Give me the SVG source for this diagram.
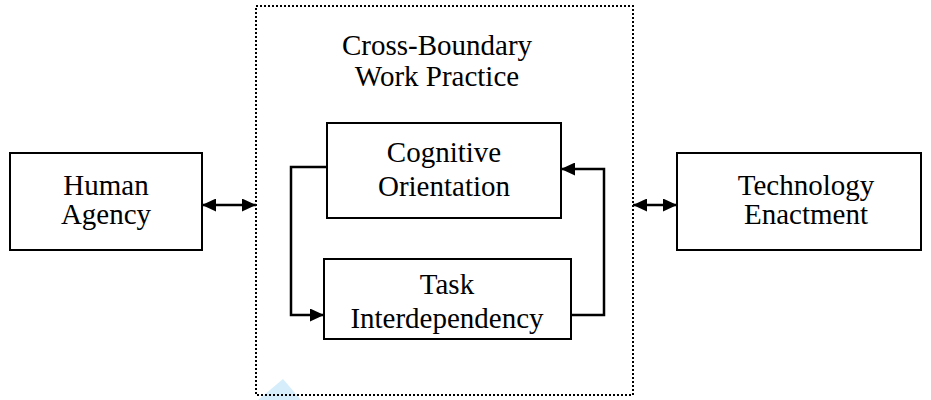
<svg xmlns="http://www.w3.org/2000/svg" width="931" height="400" viewBox="0 0 931 400">
<defs>
<style>
.box{fill:#fff;stroke:#000;stroke-width:2}
.t{font-family:"Liberation Serif","Times New Roman",serif;font-size:29px;text-anchor:middle;fill:#000}
.ln{fill:none;stroke:#000;stroke-width:2.5}
</style>
<marker id="ah" viewBox="0 0 14 13" refX="14" refY="6.5" markerWidth="14" markerHeight="13" orient="auto-start-reverse" markerUnits="userSpaceOnUse">
<path d="M0,0 L14,6.5 L0,13 z" fill="#000"/>
</marker>
</defs>
<rect width="931" height="400" fill="#fff"/>
<polygon points="258,400 283,379 301,400" fill="#d6eefb"/>
<g id="practice">
<rect x="256" y="6" width="377" height="389" fill="none" stroke="#000" stroke-width="2" stroke-dasharray="2,2"/>
<text class="t" x="437" y="55">Cross-Boundary</text>
<text class="t" x="437" y="86">Work Practice</text>
</g>
<g id="human">
<rect class="box" x="10" y="153" width="192" height="97"/>
<text class="t" x="106" y="195">Human</text>
<text class="t" x="106" y="224">Agency</text>
</g>
<g id="tech">
<rect class="box" x="677" y="153" width="244" height="97"/>
<text class="t" x="806" y="195">Technology</text>
<text class="t" x="806" y="224">Enactment</text>
</g>
<g id="cognitive">
<rect class="box" x="327" y="123" width="234" height="95"/>
<text class="t" x="444" y="162">Cognitive</text>
<text class="t" x="444" y="196">Orientation</text>
</g>
<g id="task">
<rect class="box" x="324" y="259" width="247" height="80"/>
<text class="t" x="447" y="294">Task</text>
<text class="t" x="447" y="328">Interdependency</text>
</g>
<g id="connectors">
<line class="ln" x1="202" y1="205" x2="256" y2="205" marker-start="url(#ah)" marker-end="url(#ah)"/>
<line class="ln" x1="633" y1="205" x2="677" y2="205" marker-start="url(#ah)" marker-end="url(#ah)"/>
<polyline class="ln" points="327,167 291,167 291,315 324,315" marker-end="url(#ah)"/>
<polyline class="ln" points="571,315 604,315 604,169 561,169" marker-end="url(#ah)"/>
</g>
</svg>
